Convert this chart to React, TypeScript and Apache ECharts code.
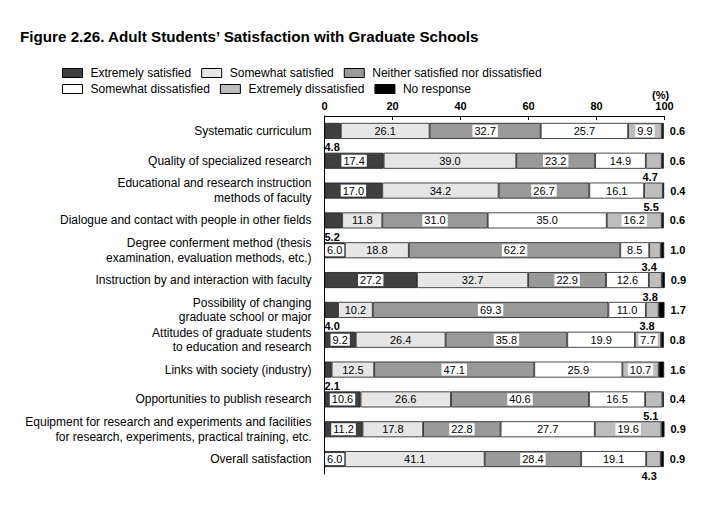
import React, { useEffect, useRef } from "react";
import * as echarts from "echarts";

const categories = [
  "Systematic curriculum",
  "Quality of specialized research",
  "Educational and research instruction\nmethods of faculty",
  "Dialogue and contact with people in other fields",
  "Degree conferment method (thesis\nexamination, evaluation methods, etc.)",
  "Instruction by and interaction with faculty",
  "Possibility of changing\ngraduate school or major",
  "Attitudes of graduate students\nto education and research",
  "Links with society (industry)",
  "Opportunities to publish research",
  "Equipment for research and experiments and facilities\nfor research, experiments, practical training, etc.",
  "Overall satisfaction",
];

const extremelySatisfied = [4.8, 17.4, 17.0, 5.2, 6.0, 27.2, 4.0, 9.2, 2.1, 10.6, 11.2, 6.0];
const somewhatSatisfied = [26.1, 39.0, 34.2, 11.8, 18.8, 32.7, 10.2, 26.4, 12.5, 26.6, 17.8, 41.1];
const neither = [32.7, 23.2, 26.7, 31.0, 62.2, 22.9, 69.3, 35.8, 47.1, 40.6, 22.8, 28.4];
const somewhatDissatisfied = [25.7, 14.9, 16.1, 35.0, 8.5, 12.6, 11.0, 19.9, 25.9, 16.5, 27.7, 19.1];
const extremelyDissatisfied = [9.9, 4.7, 5.5, 16.2, 3.4, 3.8, 3.8, 7.7, 10.7, 5.1, 19.6, 4.3];
const noResponse = [0.6, 0.6, 0.4, 0.6, 1.0, 0.9, 1.7, 0.8, 1.6, 0.4, 0.9, 0.9];

const xTicks = [0, 20, 40, 60, 80, 100];

const FONT = "Liberation Sans";

export default function App() {
  const ref = useRef<HTMLDivElement>(null);
  useEffect(() => {
    if (!ref.current) return;
    const chart = echarts.init(ref.current, null, { renderer: "svg" });
    const fmt = (v: number) => v.toFixed(1);
    const boxLabel = {
      show: true,
      position: "inside",
      color: "#000",
      fontSize: 11,
      fontFamily: FONT,
      backgroundColor: "#fff",
      padding: [1, 2, 0, 2],
      formatter: (p: any) => fmt(p.value),
    };
    const plainLabel = {
      show: true,
      position: "inside",
      color: "#000",
      fontSize: 11,
      fontFamily: FONT,
      formatter: (p: any) => fmt(p.value),
    };
    const belowLeft = {
      show: true,
      position: [0, "100%"],
      align: "left",
      verticalAlign: "top",
      offset: [0, 3],
      color: "#000",
      fontSize: 11,
      fontWeight: "bold",
      fontFamily: FONT,
      backgroundColor: "transparent",
      padding: 0,
    };
    const belowRight = {
      show: true,
      position: ["100%", "100%"],
      align: "right",
      verticalAlign: "top",
      offset: [-4, 3],
      color: "#000",
      fontSize: 11,
      fontWeight: "bold",
      fontFamily: FONT,
      backgroundColor: "transparent",
      padding: 0,
    };
    const border = { borderColor: "#1a1a1a", borderWidth: 0.8 };
    const mk = (
      name: string,
      values: number[],
      color: string,
      label: any,
      small?: (v: number) => boolean,
      smallLabel?: any
    ) => ({
      name,
      type: "bar",
      stack: "total",
      barWidth: 16,
      itemStyle: { color, ...border },
      label,
      emphasis: { disabled: true },
      data: values.map((v) =>
        small && small(v) ? { value: v, label: smallLabel } : { value: v }
      ),
    });

    const series = [
      mk("Extremely satisfied", extremelySatisfied, "#3f3f3f", boxLabel, (v) => v < 5.8, belowLeft),
      mk("Somewhat satisfied", somewhatSatisfied, "#e6e6e6", plainLabel),
      mk("Neither satisfied nor dissatisfied", neither, "#999999", boxLabel),
      mk("Somewhat dissatisfied", somewhatDissatisfied, "#ffffff", plainLabel),
      mk("Extremely dissatisfied", extremelyDissatisfied, "#bdbdbd", boxLabel, (v) => v < 7, belowRight),
      mk("No response", noResponse, "#000000", {
        show: true,
        position: "right",
        distance: 6,
        color: "#000",
        fontSize: 11,
        fontWeight: "bold",
        fontFamily: FONT,
        formatter: (p: any) => fmt(p.value),
      }),
    ];

    const legendCommon = {
      left: 62,
      itemWidth: 20,
      itemHeight: 9,
      itemGap: 10,
      padding: 0,
      icon: "rect",
      selectedMode: false,
      itemStyle: { borderColor: "#000", borderWidth: 1 },
      textStyle: { fontSize: 12, fontFamily: FONT, color: "#000", padding: [0, 0, 0, 3] },
    };

    chart.setOption({
      animation: false,
      backgroundColor: "#fff",
      textStyle: { fontFamily: FONT },
      title: {
        text: "Figure 2.26. Adult Students\u2019 Satisfaction with Graduate Schools",
        left: 20,
        top: 29,
        padding: 0,
        textStyle: { fontSize: 15.2, fontWeight: "bold", fontFamily: FONT, color: "#000" },
      },
      legend: [
        { ...legendCommon, top: 67, data: ["Extremely satisfied", "Somewhat satisfied", "Neither satisfied nor dissatisfied"] },
        { ...legendCommon, top: 83, data: ["Somewhat dissatisfied", "Extremely dissatisfied", "No response"] },
      ],
      graphic: [
        {
          type: "text",
          left: 652,
          top: 89,
          style: { text: "(%)", fontSize: 11, fontWeight: "bold", fontFamily: FONT, fill: "#000" },
        },
      ],
      grid: { left: 324.5, top: 116, width: 340, height: 358, containLabel: false },
      xAxis: {
        type: "value",
        position: "top",
        min: 0,
        max: 100,
        interval: 20,
        axisLine: { show: true, lineStyle: { color: "#000", width: 1 } },
        axisTick: { show: true, inside: true, length: 4, lineStyle: { color: "#000" } },
        axisLabel: {
          margin: 5,
          fontSize: 11,
          fontWeight: "bold",
          fontFamily: FONT,
          color: "#000",
          formatter: (v: number) => (xTicks.includes(v) ? String(v) : ""),
        },
        splitLine: { show: false },
      },
      yAxis: {
        type: "category",
        inverse: true,
        data: categories,
        axisLine: { show: true, lineStyle: { color: "#000", width: 1 } },
        axisTick: { show: false },
        axisLabel: {
          margin: 13,
          fontSize: 12,
          fontFamily: FONT,
          color: "#000",
          lineHeight: 14.5,
          align: "right",
        },
      },
      series,
    });
    return () => chart.dispose();
  }, []);
  return <div ref={ref} style={{ width: 709, height: 510, position: "absolute", left: 0, top: 0 }} />;
}
